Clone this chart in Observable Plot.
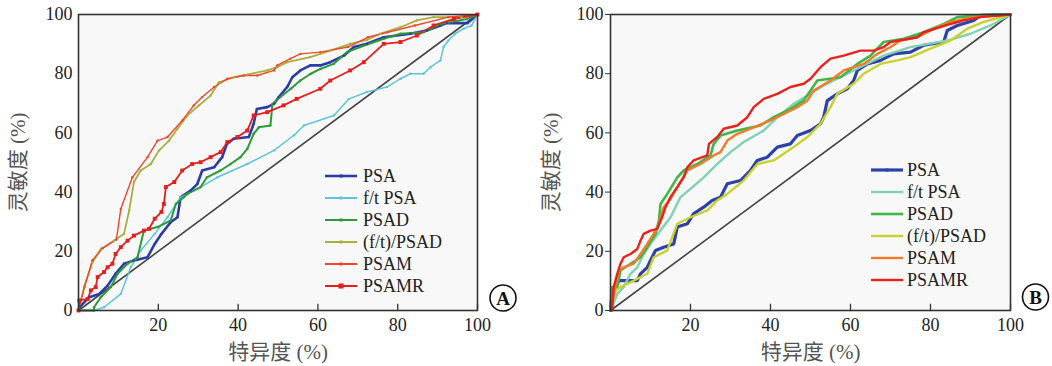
<!DOCTYPE html>
<html>
<head>
<meta charset="utf-8">
<script src="https://cdn.jsdelivr.net/npm/d3@7"></script>
<script src="https://cdn.jsdelivr.net/npm/@observablehq/plot@0.6"></script>
<style>
  html, body { margin: 0; padding: 0; background: #fff; }
  #wrap { position: relative; width: 1052px; height: 366px; overflow: hidden; }
  .panel { position: absolute; top: 0; }
  .panel svg, .panel svg text { font-family: "Liberation Serif", "Noto Sans CJK SC", serif !important; }
  .legend { position: absolute; font-family: "Liberation Serif", serif; font-size: 18px; color: #222; }
  .legend .row { position: absolute; white-space: nowrap; height: 22px; }
  .legend svg { position: absolute; top: 0; left: 0; overflow: visible; }
  .legend span { position: absolute; top: 0; line-height: 22px; }
</style>
</head>
<body>
<div id="wrap"></div>
<script>
// ---------- shared ----------
const ticksY = [0, 20, 40, 60, 80, 100];
const ticksX = [20, 40, 60, 80, 100];
const diagonal = [0, 100];
const seriesNames = ["PSA", "f/t PSA", "PSAD", "(f/t)/PSAD", "PSAM", "PSAMR"];
const xLabel = "特异度 (%)";
const yLabel = "灵敏度 (%)";

// ---------- Panel A data: [100-specificity, sensitivity] ----------
const A_PSA = [[0,0],[0.5,1.5],[2.7,4.5],[5.2,5.6],[7.3,8.4],[9.3,12.4],[11.4,15.8],[13.9,16.9],[17.3,18],[19.1,22.5],[20.8,25.9],[23.1,29.8],[24.8,31.5],[25.6,38.3],[28.1,40.5],[29.8,42.8],[31,47.3],[34,48.4],[36,51.8],[37.2,56.3],[38.9,58],[42.7,58.6],[43.9,63.1],[44.7,68.1],[47.3,68.7],[49,69.8],[50.2,72.1],[52.3,75.5],[53.6,78.8],[55.6,81.1],[58.1,82.8],[60.6,82.8],[63.1,83.9],[66.5,86.1],[69,89],[72.3,90.1],[76.5,92.3],[83.2,93.5],[87.3,94.6],[90.7,96.3],[92.3,97.1],[97.5,97.1],[100,100]];
const A_ftPSA = [[0,0],[3.8,0],[6.4,1.1],[10.6,5.6],[13.1,14.6],[15.6,20.3],[19.1,25.9],[22.3,31.5],[25.6,38.3],[30.6,41.7],[34.8,45],[42.3,49.5],[49,54.1],[54,59.2],[56.5,62.5],[64,65.9],[67.8,71.5],[72.3,73.8],[77.3,75.5],[80.7,78.3],[83.2,80],[86.5,80],[88.2,82.2],[90.7,84.5],[91.5,89],[92.7,91.2],[94.4,93.5],[96.5,95.2],[98.5,96.3],[100,100]];
const A_PSAD = [[0,0],[3.9,0],[3.9,1.1],[5.6,4.5],[8.1,7.9],[9.8,12.4],[12.3,15.8],[14.8,18],[16.4,27],[19.8,28.2],[23.1,30.4],[24.4,36],[27.3,39.4],[30.6,41.7],[32.2,45],[35.6,47.3],[38.1,49.5],[40.6,51.8],[42.3,54.6],[43.9,59.7],[45.2,61.9],[48.1,62.5],[48.6,69.8],[50.6,72.1],[53.2,74.9],[55.6,77.7],[58.1,79.9],[60.6,81.6],[63.9,83.3],[67.3,87.3],[70.6,89],[76.5,91.8],[80.7,93.5],[86.5,94],[90.7,96.8],[97.4,98.5],[100,100]];
const A_ftPSAD = [[0,0],[1.4,7.9],[3.5,16.3],[5.6,20.8],[8.9,23.6],[11.4,25.9],[12.7,33.8],[13.9,43.4],[15.6,47.3],[18.1,49.5],[20.2,54.1],[22.7,57.4],[24.8,61.4],[27.3,65.9],[30.2,69.3],[33.1,72.6],[35.2,77.1],[39,78.8],[42.3,79.7],[47.3,81.1],[49.8,82.2],[52.3,83.9],[58.1,85.6],[63.1,87.8],[68.1,90.1],[72.3,91.4],[75.6,93.5],[80.7,95.7],[84.8,98],[89,99.1],[96,99.1],[100,100]];
const A_PSAM = [[0,0],[1.5,8],[3.5,17],[6,21],[9.5,24],[10.6,34.3],[13.5,45],[17.3,51.8],[19.8,57.4],[22.3,58.6],[26,64.2],[28.9,69.3],[31,72.1],[34,75.5],[37.3,78.3],[41.4,79.4],[44.8,79.4],[49,81.1],[49.8,82.8],[53.1,85.1],[55.6,86.7],[60.6,87.3],[67.5,89],[72.5,92.3],[77.5,94],[84.3,96.3],[92.7,99.1],[100,100]];
const A_PSAMR = [[0,0],[0.2,3.4],[2.3,3.9],[3.1,6.8],[4.3,7.9],[4.8,11.3],[6.4,13],[7.3,14.6],[8.5,15.8],[9.3,19.1],[10.6,21.4],[12.3,23.6],[13.9,25.3],[16.4,27],[17.7,27.6],[19.1,31],[20.8,33.3],[21.4,36],[21.9,41.7],[24,43.4],[26,47.3],[28.5,49.5],[30.6,50.1],[33.1,51.8],[35.6,53.5],[37.3,56.9],[39.8,58.6],[42.3,60.8],[43.9,65.9],[47.3,67],[51.4,69.3],[54.7,71.5],[60.6,74.9],[63.1,77.7],[68.1,81.1],[71.5,83.9],[76.5,90.1],[80.7,90.7],[84.8,92.9],[89,96.3],[94.1,98.5],[100,100]];

// ---------- Panel B data ----------
const B_PSA = [[0,0],[0.4,6.8],[1.3,7.9],[2.1,10.1],[6.7,10.1],[7.5,12.4],[9.2,14.6],[10,16.9],[11.25,20.3],[13.3,21.4],[15.8,22.5],[16.7,28.2],[19.2,29.3],[20.8,32.7],[23.3,34.9],[25.4,37.2],[27.5,38.3],[29.2,42.8],[32.5,43.9],[35,47.3],[36.7,50.7],[39.2,51.8],[41.7,55.2],[45,56.3],[46.7,59.1],[50,60.8],[52.5,63.1],[53.3,65.3],[54.2,70.9],[56.7,73.2],[59.2,74.9],[60.8,77.7],[61.7,81.1],[64.2,83.3],[67.5,84.5],[70.8,86.7],[75,87.3],[78.3,89.6],[83.3,90.7],[84.2,94.6],[86.7,96.3],[90.8,98],[92.5,99.7],[100,100]];
const B_ftPSA = [[0,0],[1.7,5.6],[3.3,7.9],[5,12.4],[6.7,14.6],[8.3,19.1],[10,22.5],[12.5,27],[15,31.5],[17.5,38.3],[20,41.1],[23.3,45],[26.7,49.5],[30,53.5],[33.3,56.9],[38.3,60.8],[41.7,65.3],[45.8,69.8],[49.2,72.6],[53.3,76],[58.3,79.4],[63.3,82.8],[68.3,86.1],[75,89],[84.2,91.2],[90,93.5],[95,96.3],[100,100]];
const B_PSAD = [[0,0],[0.4,7.9],[1.7,7.9],[2.5,13.5],[5,15.8],[7.5,18],[9.2,21.4],[11.25,25.9],[12.1,30.4],[12.5,36],[14.2,39.4],[16.7,45],[18.3,47.3],[21.7,49.5],[25,52.4],[25.8,56.3],[27.5,59.1],[31.7,60.8],[37.5,62.5],[40.8,65.3],[45,68.1],[48.3,70.9],[51.7,77.7],[57.5,78.8],[61.7,83.3],[65,86.1],[68.3,90.7],[73.3,91.8],[78.3,94],[83.3,96.8],[86.7,99.1],[92.5,99.7],[100,100]];
const B_ftPSAD = [[0,0],[1.3,6.8],[2.5,7.9],[5.8,10.1],[9.2,12.4],[10.8,18],[14.2,20.3],[16.7,29.3],[20,31.5],[24.2,33.8],[26.7,37.2],[29.2,39.4],[33.3,43.9],[36.7,49.5],[40.8,50.7],[45.8,55.2],[49.2,58.6],[52.5,63.1],[55,68.7],[56.7,73.2],[60.8,76.6],[63.3,80],[67.5,83.3],[71.7,84.5],[75,85.6],[80,88.5],[85,91.2],[89.2,95.2],[93.3,97.5],[100,100]];
const B_PSAM = [[0,0],[0.8,5.6],[2.1,13.5],[3.3,14.6],[5.8,15.8],[7.5,19.1],[9.2,22.5],[10.8,25.9],[12.1,29.3],[13.3,34.9],[15,37.7],[16.7,41.7],[19.2,47.3],[22.5,49.5],[25.8,52.4],[27.5,53.5],[29.2,57.4],[31.7,59.7],[35.8,61.9],[40,64.2],[43.3,66.4],[46.7,68.7],[49.2,70.9],[50.8,74.3],[55,77.7],[58.3,81.1],[63.3,83.3],[66.7,86.7],[70,89],[72.5,91.2],[76.7,92.3],[81.7,95.7],[85,97.5],[90.8,99.1],[100,100]];
const B_PSAMR = [[0,0],[0.4,0],[0.8,7.9],[1.7,12.4],[2.5,15.8],[3.3,18],[5,19.1],[6.7,20.8],[7.5,23.6],[8.3,25.9],[10,27],[11.7,27.6],[12.9,31.5],[13.75,34.9],[15,38.3],[16.7,41.7],[18.3,45],[19.2,48.4],[20.8,50.7],[24.2,52.4],[24.6,56.3],[26.7,58.6],[28.3,61.4],[31.7,62.5],[34.2,65.3],[35.8,68.7],[38.3,71.5],[41.7,73.2],[45,75.5],[48.3,76.6],[50,78.3],[52.5,82.2],[55,85.1],[58.3,86.1],[62.5,87.8],[65.8,87.8],[68.3,89],[70,90.7],[76.7,92.3],[78.3,94],[85,96.8],[88.3,98],[92.5,99.1],[100,100]];

const colorsA = ["#2b3ca6", "#5cc6d6", "#2c9a38", "#a9ae3c", "#f0482c", "#e51e1e"];
const colorsB = ["#2e41a8", "#7fd2b2", "#3db848", "#c9d22c", "#f37a2a", "#e8231c"];

const panelA = { key: "A", left: 0, width: 526, mL: 78, mR: 49, data: [A_PSA, A_ftPSA, A_PSAD, A_ftPSAD, A_PSAM, A_PSAMR], colors: colorsA, sw: [2.6, 1.5, 2, 1.8, 1.4, 1.8], yTick: 0, ylabDx: -60, circle: [25.5, -12.5], legend: { x: 325, y: 165 } };
const panelB = { key: "B", left: 526, width: 526, mL: 84, mR: 42, data: [B_PSA, B_ftPSA, B_PSAD, B_ftPSAD, B_PSAM, B_PSAMR], colors: colorsB, sw: [3.2, 2.4, 2.6, 2.4, 2.4, 2.4], yTick: 5, ylabDx: -59, circle: [25, -13.5], legend: { x: 345, y: 159 } };

const serif = "Liberation Serif, Noto Sans CJK SC, serif";

function draw(p) {
  const marks = [
    Plot.frame({ fill: "#f8f8f8", stroke: null }),
    Plot.line(diagonal, { x: d => d, y: d => d, stroke: "#444", strokeWidth: 1.6 }),
  ];
  p.data.forEach((arr, i) => {
    marks.push(Plot.line(arr, { x: d => d[0], y: d => d[1], stroke: p.colors[i], strokeWidth: p.sw[i], strokeLinejoin: "miter" }));
  });
  if (p.key === "A") {
    p.data.forEach((arr, i) => {
      marks.push(Plot.dot(arr, { x: d => d[0], y: d => d[1], fill: p.colors[i], r: i === 5 ? 2.2 : 1.2, symbol: i === 5 ? "square" : "circle" }));
    });
  }
  marks.push(
    Plot.ruleX(ticksX, { y1: 0, y2: 2.1, stroke: "#333", strokeWidth: 1.3 }),
    Plot.frame({ stroke: "#333", strokeWidth: 1.6 }),
    Plot.axisY(ticksY, { tickSize: p.yTick, tickPadding: p.yTick ? 2 : 6, fontSize: 18, fontFamily: serif, label: null, stroke: "#333", fill: "#222" }),
    Plot.axisX(ticksX, { tickSize: 0, tickPadding: 8, fontSize: 18, fontFamily: serif, label: null, fill: "#222" }),
    Plot.text([xLabel], { frameAnchor: "bottom", dy: 42, lineAnchor: "middle", textAnchor: "middle", fontSize: 21, fontFamily: serif, fill: "#555" }),
    Plot.text([yLabel], { frameAnchor: "left", dx: p.ylabDx, rotate: -90, lineAnchor: "middle", textAnchor: "middle", fontSize: 21, fontFamily: serif, fill: "#555" }),
    Plot.dot([p.key], { frameAnchor: "bottom-right", dx: p.circle[0], dy: p.circle[1], r: 13, stroke: "#111", strokeWidth: 1.6, fill: "#fff" }),
    Plot.text([p.key], { text: d => d, frameAnchor: "bottom-right", dx: p.circle[0], dy: p.circle[1] + 0.5, lineAnchor: "middle", textAnchor: "middle", fontSize: 19, fontFamily: serif, fontWeight: "bold", fill: "#111" })
  );
  const chart = Plot.plot({
    width: p.width, height: 366,
    marginLeft: p.mL, marginRight: p.mR, marginTop: 14, marginBottom: 56,
    x: { domain: [0, 100] },
    y: { domain: [0, 100] },
    style: { fontFamily: serif, color: "#222", background: "transparent", overflow: "visible" },
    marks
  });
  const div = document.createElement("div");
  div.className = "panel";
  div.style.left = p.left + "px";
  div.appendChild(chart);
  // legend overlay
  const lg = document.createElement("div");
  lg.className = "legend";
  lg.style.left = p.legend.x + "px";
  lg.style.top = p.legend.y + "px";
  seriesNames.forEach((name, i) => {
    const row = document.createElement("div");
    row.className = "row";
    row.style.top = (i * 22) + "px";
    const sw = Math.max(2, p.sw[i]);
    const sq = i === 5 && p.key === "A";
    row.innerHTML = `<svg width="34" height="22"><line x1="0" x2="32" y1="11" y2="11" stroke="${p.colors[i]}" stroke-width="${sw}"/>` +
      (p.key === "A" || i === 0 ? `<rect x="${sq ? 13.5 : 14.5}" y="${sq ? 8.5 : 9.5}" width="${sq ? 5 : 3}" height="${sq ? 5 : 3}" fill="${p.colors[i]}"/>` : "") +
      `</svg><span style="left:${p.key === "A" ? 38 : 36}px">${name}</span>`;
    lg.appendChild(row);
  });
  div.appendChild(lg);
  document.getElementById("wrap").appendChild(div);
}
draw(panelA);
draw(panelB);
</script>
</body>
</html>
